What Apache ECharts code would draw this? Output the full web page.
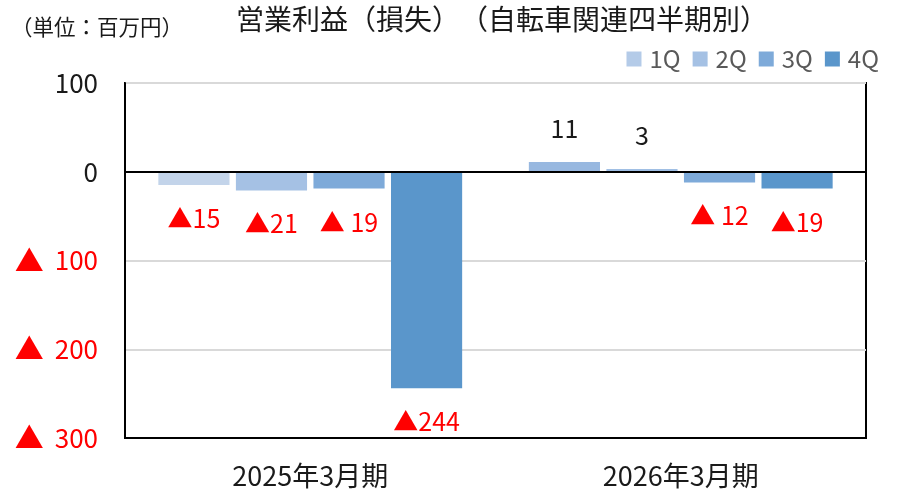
<!DOCTYPE html>
<html><head><meta charset="utf-8">
<script src="https://cdn.jsdelivr.net/npm/echarts@6/dist/echarts.min.js"></script>
<style>html,body{margin:0;padding:0;background:#fff}#c{width:900px;height:494px}</style>
</head><body><div id="c"></div>
<script>
const categories = ['2025年3月期', '2026年3月期'];
const seriesNames = ['1Q', '2Q', '3Q', '4Q'];
const q1 = [-15, 11];
const q2 = [-21, 3];
const q3 = [-19, -12];
const q4 = [-244, -19];
const q1Labels = ['▲15', '11'];
const q2Labels = ['▲21', '3'];
const q3Labels = ['▲ 19', '▲ 12'];
const q4Labels = ['▲244', '▲19'];
const yTickLabels = {'100': '100', '0': '0', '-100': '▲ 100', '-200': '▲ 200', '-300': '▲ 300'};
const titleText = '営業利益（損失）\u200B（自転車関連四半期別）';
const unitText = '（単位：百万円）';

const legendColors = ['#b4cbe8', '#a5c1e4', '#7eaad9', '#5a96cb'];
const barColors = [
  ['#c3d4ea', '#98b8e0'],
  ['#a5c1e4', '#a0bfe4'],
  ['#7eaad9', '#7eaad9'],
  ['#5a96cb', '#5a96cb']
];
const FONT = '"Noto Sans CJK JP", "Noto Sans", sans-serif';
const values = [q1, q2, q3, q4];
const labels = [q1Labels, q2Labels, q3Labels, q4Labels];

const series = seriesNames.map((name, si) => ({
  name,
  type: 'bar',
  barGap: '9%',
  barCategoryGap: '18%',
  itemStyle: { color: legendColors[si] },
  data: values[si].map((v, ci) => ({
    value: v,
    itemStyle: { color: barColors[si][ci] },
    label: {
      show: true,
      position: v < 0 ? 'bottom' : 'top',
      distance: 21,
      formatter: () => labels[si][ci],
      color: v < 0 ? '#ff0000' : '#1a1a1a',
      fontSize: 25,
      fontFamily: FONT
    }
  })),
  markLine: si === 0 ? {
    silent: true,
    symbol: 'none',
    label: { show: false },
    lineStyle: { color: '#000', width: 2, type: 'solid' },
    data: [{ yAxis: 0 }]
  } : undefined
}));

const chart = echarts.init(document.getElementById('c'), null, { renderer: 'canvas' });
chart.setOption({
  animation: false,
  title: [
    { text: titleText, left: 497, top: 0, textAlign: 'center',
      textStyle: { fontSize: 28, fontWeight: 'normal', color: '#1a1a1a', fontFamily: FONT } },
    { text: unitText, left: 6, top: 11,
      textStyle: { fontSize: 21.5, fontWeight: 'normal', color: '#1a1a1a', fontFamily: FONT } }
  ],
  legend: {
    data: seriesNames,
    right: 16, top: 42,
    itemWidth: 15, itemHeight: 15, itemGap: 12,
    icon: 'rect',
    textStyle: { fontSize: 24, color: '#595959', fontFamily: FONT, padding: [0, 0, 0, 3] }
  },
  grid: { left: 125, right: 34, top: 83, bottom: 56, show: true, borderColor: '#000', borderWidth: 2, containLabel: false },
  xAxis: {
    type: 'category',
    data: categories,
    position: 'bottom',
    axisLine: { onZero: false, show: true, lineStyle: { color: '#000', width: 2 } },
    axisTick: { show: false },
    axisLabel: { fontSize: 27, color: '#1a1a1a', margin: 24, fontFamily: FONT }
  },
  yAxis: {
    type: 'value',
    min: -300, max: 100, interval: 100,
    axisLine: { show: true, lineStyle: { color: '#000', width: 2 } },
    axisTick: { show: false },
    splitLine: { show: true, lineStyle: { color: '#d9d9d9', width: 2 } },
    axisLabel: {
      fontSize: 26, margin: 27, fontFamily: FONT,
      formatter: v => {
        const t = yTickLabels[String(v)];
        return t.startsWith('▲') ? '{tri|▲}\u2009' + t.slice(1) : t;
      },
      rich: { tri: { fontSize: 29, color: '#ff0000', fontFamily: FONT } },
      color: v => (v < 0 ? '#ff0000' : '#1a1a1a')
    }
  },
  series
});
</script></body></html>
